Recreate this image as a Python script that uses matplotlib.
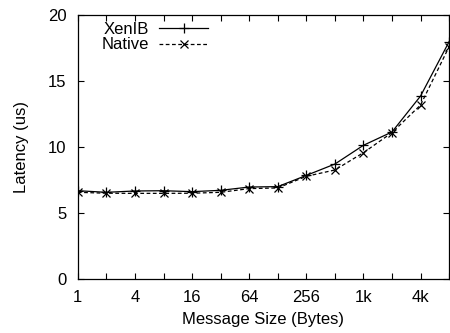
import matplotlib
matplotlib.use("Agg")
from matplotlib import pyplot as plt

plt.rcParams['font.family'] = ['Liberation Sans', 'DejaVu Sans']

# message sizes in bytes
sizes = [1, 2, 4, 8, 16, 32, 64, 128, 256, 512, 1024, 2048, 4096, 8192]
xenib = [6.69, 6.57, 6.67, 6.69, 6.62, 6.72, 6.97, 7.0, 7.85, 8.71, 10.13, 11.14, 13.86, 17.98]
native = [6.57, 6.5, 6.49, 6.49, 6.5, 6.57, 6.85, 6.9, 7.78, 8.26, 9.57, 11.09, 13.18, 17.6]
tick_labels = ["1", "", "4", "", "16", "", "64", "", "256", "", "1k", "", "4k", ""]

fig = plt.figure(figsize=(4.5, 3.33), dpi=100)
ax = fig.add_axes([0.173, 0.162, 0.825, 0.793])

ax.plot(sizes, xenib, color='black', linestyle='-', linewidth=0.9,
        marker='+', markersize=7, markeredgewidth=0.9, label='XenIB')
ax.plot(sizes, native, color='black', linestyle=(0, (3, 2)), linewidth=0.9,
        marker='x', markersize=6, markeredgewidth=0.9, label='Native')

ax.set_xscale('log', base=2)
ax.set_xlim(1, 8192)
ax.set_ylim(0, 20)
ax.set_xticks(sizes)
ax.set_xticklabels(tick_labels)
ax.minorticks_off()
ax.set_yticks([0, 5, 10, 15, 20])

ax.tick_params(direction='in', top=True, right=True, length=4, width=0.8, labelsize=12, pad=8)
for s in ax.spines.values():
    s.set_linewidth(0.9)

ax.set_xlabel('Message Size (Bytes)', fontsize=12, labelpad=5)
ax.set_ylabel('Latency (us)', fontsize=12, labelpad=14)

# gnuplot-style key: label first, then the line sample
ax.legend(loc='upper left', bbox_to_anchor=(0.065, 0.975), frameon=False, fontsize=12,
          markerfirst=False, handlelength=2.9, handletextpad=0.6,
          labelspacing=0.05, borderpad=0.0, borderaxespad=0.0)

fig.savefig('out.png', dpi=100)
